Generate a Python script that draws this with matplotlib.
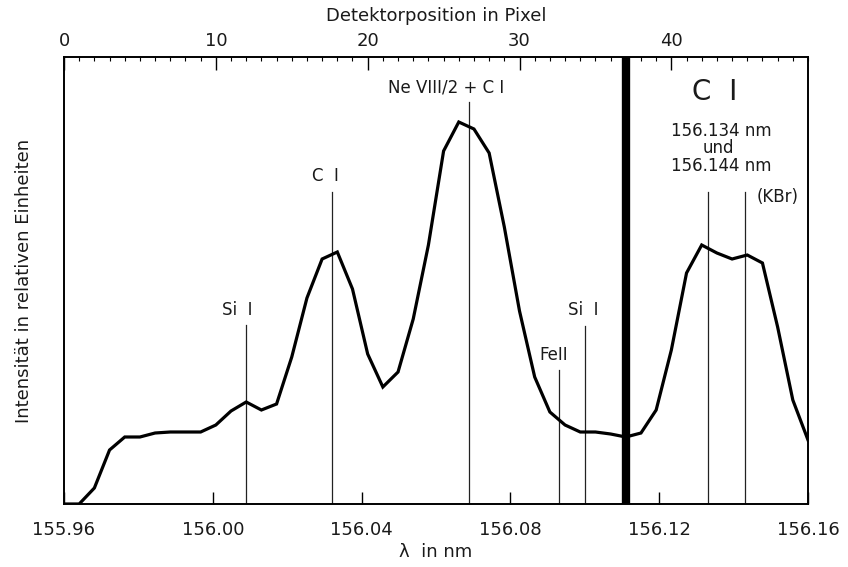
import numpy as np
import matplotlib
matplotlib.use('Agg')
import matplotlib.pyplot as plt

plt.rcParams['font.family'] = ['DejaVu Sans']

# spectrum, one value per detector pixel (0..49)
pixel = list(range(50))
intensity = [0, 0, 16, 54, 67, 67, 71, 72, 72, 72,
             79, 93, 102, 94, 100, 147, 206, 245, 252, 215,
             150, 117, 132, 185, 259, 353, 382, 375, 351, 277,
             193, 127, 92, 79, 72, 72, 70, 67, 71, 94,
             154, 231, 259, 251, 245, 249, 241, 177, 104, 64]

lam0 = 155.96
lam1 = 156.16
dlam = (lam1 - lam0) / 49          # nm per pixel

# line identifications: position (nm) and height of marker
line_pos = [156.009, 156.032, 156.069, 156.093, 156.100, 156.133, 156.143]
line_top = [179, 312, 402, 134, 178, 312, 312]
thick_pos = 156.111

# labels: text, x (nm), y, size
labels = ['Si  I', 'C  I', 'Ne VIII/2 + C I', 'FeII', 'Si  I',
          'C  I', '156.134 nm', 'und', '156.144 nm', '(KBr)']
label_x = [156.0065, 156.0302, 156.0627, 156.0917, 156.0995,
           156.135, 156.1366, 156.1358, 156.1366, 156.1519]
label_y = [194, 328, 417, 149, 194, 412, 373, 356, 338, 307]
label_size = [12, 12, 12, 12, 12, 20, 12, 12, 12, 12]

bottom_ticks = [155.96, 156.00, 156.04, 156.08, 156.12, 156.16]
bottom_ticklabels = ['155.96', '156.00', '156.04', '156.08', '156.12', '156.16']
top_ticks = [0, 10, 20, 30, 40]

lam = [lam0 + p * dlam for p in pixel]

txt = '#1a1a1a'
fig = plt.figure(figsize=(8.48, 5.67), dpi=100)
ax = fig.add_axes([64/848, 1 - 504/567, 744/848, 447/567])

ax.plot(lam, intensity, color='black', lw=2.3, solid_joinstyle='miter', zorder=3)

for x, top in zip(line_pos, line_top):
    ax.plot([x, x], [0, top], color='#222222', lw=0.9, zorder=2)
ax.axvline(thick_pos, color='black', lw=6, zorder=4)

for t, x, y, s in zip(labels, label_x, label_y, label_size):
    ax.text(x, y, t, ha='center', va='center', fontsize=s, color=txt)

ax.set_xlim(lam0, lam1)
ax.set_ylim(0, 447)
ax.set_yticks([])
ax.set_xticks(bottom_ticks)
ax.set_xticklabels(bottom_ticklabels)
ax.tick_params(axis='x', direction='in', length=9, width=1, pad=12,
               labelsize=13, labelcolor=txt)
for sp in ax.spines.values():
    sp.set_linewidth(1.2)

ax.set_xlabel('λ  in nm', fontsize=13, labelpad=3, color=txt)
ax.set_ylabel('Intensität in relativen Einheiten', fontsize=13, labelpad=22, color=txt)

# top axis in detector pixels
top = ax.twiny()
top.set_xlim(0, (lam1 - lam0) / dlam)
top.set_xticks(top_ticks)
top.set_xticks(np.arange(0, 50, 1), minor=True)
top.tick_params(which='major', direction='in', length=9, width=1, pad=5,
                labelsize=13, labelcolor=txt)
top.tick_params(which='minor', direction='in', length=3, width=0.8)
top.set_xlabel('Detektorposition in Pixel', fontsize=13, labelpad=8, color=txt)
for sp in top.spines.values():
    sp.set_linewidth(1.2)

fig.savefig('out.png', dpi=100)
